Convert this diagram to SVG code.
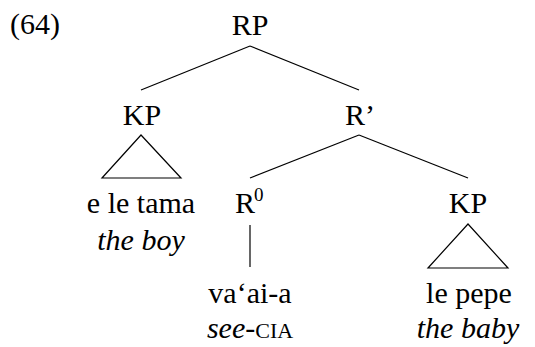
<svg xmlns="http://www.w3.org/2000/svg" width="535" height="347" viewBox="0 0 535 347">
<style>
.ln{stroke:#000;stroke-width:1.2;fill:none}
</style>
<rect width="535" height="347" fill="#fff"/>
<text font-family="Liberation Serif" font-size="30" x="10" y="34">(64)</text>
<g id="connectors">
<line class="ln" x1="250" y1="46" x2="141" y2="90"/>
<line class="ln" x1="250" y1="46" x2="359" y2="90"/>
<line class="ln" x1="359" y1="135" x2="250" y2="178"/>
<line class="ln" x1="359" y1="135" x2="468" y2="178"/>
<line class="ln" x1="250" y1="225" x2="250" y2="267"/>
</g>
<g id="RP"><text font-family="Liberation Serif" font-size="30" text-anchor="middle" x="250" y="35">RP</text></g>
<g id="KP1"><text font-family="Liberation Serif" font-size="30" text-anchor="middle" x="142" y="125">KP</text>
<polygon class="ln" points="141,135 102,178 181,178"/></g>
<g id="Rbar"><text font-family="Liberation Serif" font-size="30" text-anchor="middle" x="360" y="125">R’</text></g>
<g id="R0"><text font-family="Liberation Serif" font-size="30" x="235" y="213">R</text><text font-family="Liberation Serif" font-size="19" x="254" y="201">0</text></g>
<g id="KP2"><text font-family="Liberation Serif" font-size="30" text-anchor="middle" x="468" y="213">KP</text>
<polygon class="ln" points="468,224 428,268 508,268"/></g>
<g id="tama"><text font-family="Liberation Serif" font-size="30" text-anchor="middle" x="141" y="213">e le tama</text><text font-family="Liberation Serif" font-size="30" font-style="italic" text-anchor="middle" x="141" y="250">the boy</text></g>
<g id="vaaia"><text font-family="Liberation Serif" font-size="30" text-anchor="middle" x="250" y="303">va‘ai-a</text><text font-family="Liberation Serif" font-size="30" text-anchor="middle" x="250" y="338"><tspan font-style="italic">see</tspan>-<tspan font-size="22">CIA</tspan></text></g>
<g id="pepe"><text font-family="Liberation Serif" font-size="30" text-anchor="middle" x="469" y="303">le pepe</text><text font-family="Liberation Serif" font-size="30" font-style="italic" text-anchor="middle" x="468" y="338">the baby</text></g>
</svg>
